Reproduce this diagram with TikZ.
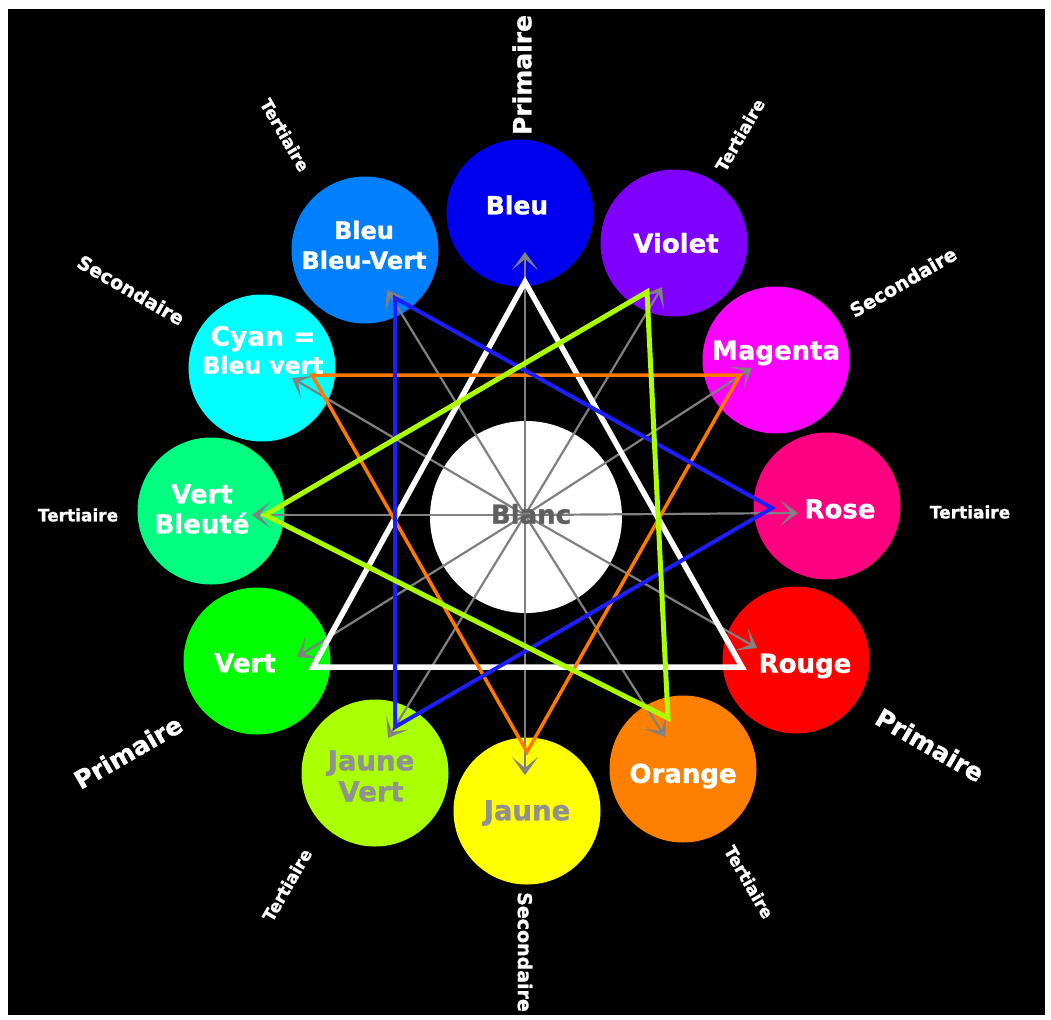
\documentclass[tikz,border=0pt]{standalone}
\usepackage{fontspec}
\setmainfont{DejaVu Sans}[BoldFeatures={FakeBold=1.2}]
\usetikzlibrary{arrows.meta}
\definecolor{cBleu}{RGB}{0,0,240}
\definecolor{cViolet}{RGB}{127,0,255}
\definecolor{cMagenta}{RGB}{255,0,255}
\definecolor{cRose}{RGB}{255,0,128}
\definecolor{cRouge}{RGB}{255,0,0}
\definecolor{cOrange}{RGB}{255,128,0}
\definecolor{cJaune}{RGB}{255,255,0}
\definecolor{cJauneVert}{RGB}{170,255,0}
\definecolor{cVert}{RGB}{0,255,0}
\definecolor{cVertBleute}{RGB}{0,255,128}
\definecolor{cCyan}{RGB}{0,255,255}
\definecolor{cBleuVert}{RGB}{0,128,255}
\definecolor{spokegray}{RGB}{128,128,128}
\definecolor{tipgray}{RGB}{140,140,135}
\definecolor{lblgray}{RGB}{145,145,145}
\definecolor{blancgray}{RGB}{95,95,95}
\definecolor{triOrange}{RGB}{255,120,0}
\definecolor{triBlue}{RGB}{30,30,250}
\definecolor{triGreen}{RGB}{170,255,0}
\tikzset{
  disk/.style={circle, minimum size=147pt, inner sep=0pt, draw=none},
  spoke/.style={draw=spokegray, line width=2.2pt, -{Stealth[length=18pt,width=26pt,inset=11pt,fill=tipgray]}},
  tri/.style={line width=#1, line join=miter},
  inlbl/.style={text=white, font=\bfseries\fontsize{26}{30}\selectfont, align=center, inner sep=0pt},
  graylbl/.style={text=lblgray, font=\bfseries\fontsize{27.5}{31}\selectfont, align=center, inner sep=0pt},
  outP/.style={text=white, font=\bfseries\fontsize{25}{28}\selectfont, inner sep=0pt},
  outS/.style={text=white, font=\bfseries\fontsize{19}{22}\selectfont, inner sep=0pt},
  outT/.style={text=white, font=\bfseries\fontsize{17}{20}\selectfont, inner sep=0pt}
}
\begin{document}
\begin{tikzpicture}[x=1pt,y=-1pt]
\useasboundingbox (0,0) rectangle (1051,1019);
\fill[white] (0,0) rectangle (1051,1019);
\fill[black] (8,9) rectangle (1045,1015);

% colour disks
\node[disk, fill=cBleu] (bleu) at (520,213) {};
\node[disk, fill=cViolet] (violet) at (674,243) {};
\node[disk, fill=cMagenta] (magenta) at (776,360) {};
\node[disk, fill=cRose] (rose) at (827,506) {};
\node[disk, fill=cRouge] (rouge) at (796,660) {};
\node[disk, fill=cOrange] (orange) at (683,769) {};
\node[disk, fill=cJaune] (jaune) at (527,811) {};
\node[disk, fill=cJauneVert] (jaunevert) at (375,773) {};
\node[disk, fill=cVert] (vert) at (257,661) {};
\node[disk, fill=cVertBleute] (vertbleute) at (211,511) {};
\node[disk, fill=cCyan] (cyan) at (262,368) {};
\node[disk, fill=cBleuVert] (bleuvert) at (365,250) {};

% white centre
\node[circle, fill=white, minimum size=192pt, inner sep=0pt] (blanc) at (526,517) {};

% spokes
\coordinate (c) at (525,515);
\coordinate (tBleu) at (525,252);
\coordinate (tViolet) at (662,287);
\coordinate (tMagenta) at (752,368);
\coordinate (tRose) at (798,513);
\coordinate (tRouge) at (757,648);
\coordinate (tOrange) at (665,737);
\coordinate (tJaune) at (525,775);
\coordinate (tJauneVert) at (388,738);
\coordinate (tVert) at (297,657);
\coordinate (tVertBleute) at (252,515);
\coordinate (tCyan) at (292,378);
\coordinate (tBleuVert) at (387,290);
\foreach \t in {tBleu,tViolet,tMagenta,tRose,tRouge,tOrange,tJaune,tJauneVert,tVert,tVertBleute,tCyan,tBleuVert}
  \draw[spoke] (c) -- (\t);

% triangle vertices
\coordinate (pTop) at (525,282);
\coordinate (pLeft) at (313,667);
\coordinate (pRight) at (742,667);
\coordinate (sCyan) at (312,375);
\coordinate (sMag) at (740,375);
\coordinate (sJaune) at (527,752);
\coordinate (bBV) at (395,298);
\coordinate (bRose) at (772,508);
\coordinate (bJV) at (395,727);
\coordinate (gViolet) at (647,292);
\coordinate (gVB) at (265,515);
\coordinate (gOrange) at (668,718);

\draw[tri=5.5pt, draw=white] (pTop) -- (pLeft) -- (pRight) -- cycle;
\draw[tri=3.5pt, draw=triOrange] (sCyan) -- (sMag) -- (sJaune) -- cycle;
\draw[tri=4pt, draw=triBlue] (bBV) -- (bRose) -- (bJV) -- cycle;
\draw[tri=5pt, draw=triGreen] (gViolet) -- (gVB) -- (gOrange) -- cycle;

% labels in disks
\node[inlbl, font=\bfseries\fontsize{25}{30}\selectfont] (lBleu) at (517,205) {Bleu};
\node[inlbl] (lViolet) at (676,243) {Violet};
\node[inlbl] (lMagenta) at (776,353) {Magenta};
\node[inlbl] (lRose) at (840,509) {Rose};
\node[inlbl] (lRouge) at (805,666) {Rouge};
\node[inlbl] (lOrange) at (683,776) {Orange};
\node[graylbl] (lJaune) at (527,813) {Jaune};
\node[graylbl] (lJauneVert) at (371,776) {Jaune\\Vert};
\node[inlbl] (lVert) at (245,663) {Vert};
\node[inlbl] (lVertBleute) at (202,509) {Vert\\Bleuté};
\node[inlbl, align=center] (lCyan) at (263,350) {{\fontsize{26.5}{30}\selectfont Cyan =}\\[-2pt]{\fontsize{23.5}{26}\selectfont Bleu vert}};
\node[inlbl, font=\bfseries\fontsize{24}{30}\selectfont] (lBleuVert) at (364,245) {Bleu\\Bleu-Vert};
\node[text=blancgray, font=\bfseries\fontsize{26}{30}\selectfont, inner sep=0pt] (lBlanc) at (531,514) {Blanc};

% outer category labels
\node[outP, rotate=90] (oP1) at (522,75) {Primaire};
\node[outP, rotate=-30] (oP2) at (930,745) {Primaire};
\node[outP, rotate=30] (oP3) at (128,752) {Primaire};
\node[outS, rotate=-90] (oS1) at (525,952) {Secondaire};
\node[outS, rotate=-30] (oS2) at (131,290) {Secondaire};
\node[outS, rotate=30] (oS3) at (903,282) {Secondaire};
\node[outT] (oT1) at (78,515) {Tertiaire};
\node[outT] (oT2) at (970,512) {Tertiaire};
\node[outT, rotate=-60] (oT3) at (285,135) {Tertiaire};
\node[outT, rotate=60] (oT4) at (740,135) {Tertiaire};
\node[outT, rotate=60] (oT5) at (287,885) {Tertiaire};
\node[outT, rotate=-60] (oT6) at (749,882) {Tertiaire};
\end{tikzpicture}
\end{document}
